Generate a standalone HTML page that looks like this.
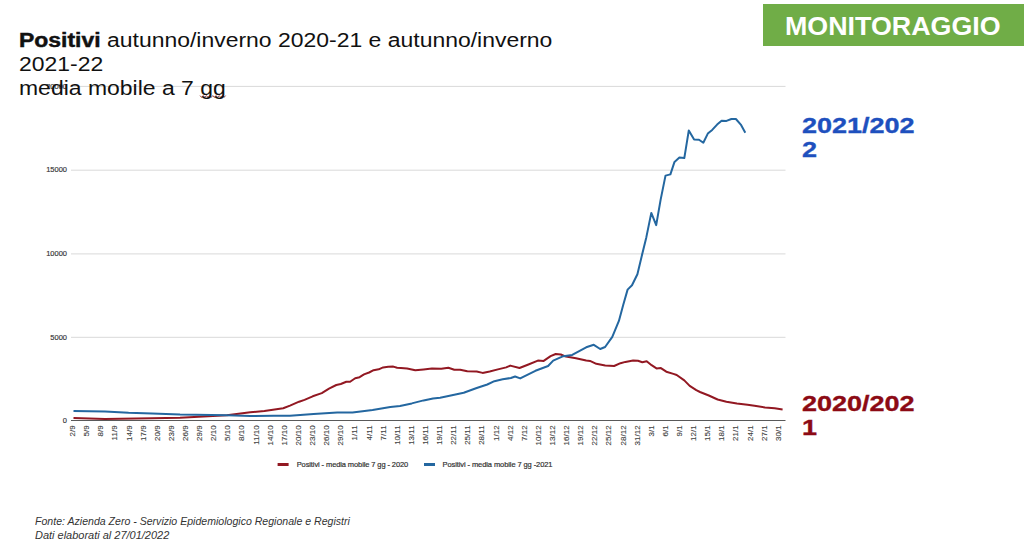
<!DOCTYPE html>
<html><head><meta charset="utf-8">
<style>
html,body{margin:0;padding:0;background:#fff;width:1024px;height:551px;overflow:hidden;position:relative;font-family:"Liberation Sans",sans-serif;}
.t{position:absolute;white-space:nowrap;}
svg{position:absolute;left:0;top:0;}
.yl{font-size:7.5px;fill:#333;stroke:#333;stroke-width:0.15px;}
.xl text{font-size:8px;fill:#404040;stroke:#404040;stroke-width:0.12px;}
</style></head><body>
<svg width="1024" height="551" viewBox="0 0 1024 551" font-family="Liberation Sans, sans-serif">
<text x="67" y="422.7" text-anchor="end" class="yl">0</text>
<line x1="71" y1="337.3" x2="785.5" y2="337.3" stroke="#d9d9d9" stroke-width="1"/>
<text x="67" y="339.5" text-anchor="end" class="yl">5000</text>
<line x1="71" y1="253.9" x2="785.5" y2="253.9" stroke="#d9d9d9" stroke-width="1"/>
<text x="67" y="256.1" text-anchor="end" class="yl">10000</text>
<line x1="71" y1="170.2" x2="785.5" y2="170.2" stroke="#d9d9d9" stroke-width="1"/>
<text x="67" y="172.39999999999998" text-anchor="end" class="yl">15000</text>
<line x1="71" y1="86.4" x2="785.5" y2="86.4" stroke="#d9d9d9" stroke-width="1"/>
<text x="67" y="88.60000000000001" text-anchor="end" class="yl">20000</text>

<line x1="71" y1="420.5" x2="785.5" y2="420.5" stroke="#595959" stroke-width="1"/>
<g class="xl">
<text transform="translate(75.10,425.4) rotate(-90) scale(1,0.9)" text-anchor="end">2/9</text>
<text transform="translate(89.21,425.4) rotate(-90) scale(1,0.9)" text-anchor="end">5/9</text>
<text transform="translate(103.33,425.4) rotate(-90) scale(1,0.9)" text-anchor="end">8/9</text>
<text transform="translate(117.44,425.4) rotate(-90) scale(1,0.9)" text-anchor="end">11/9</text>
<text transform="translate(131.56,425.4) rotate(-90) scale(1,0.9)" text-anchor="end">14/9</text>
<text transform="translate(145.67,425.4) rotate(-90) scale(1,0.9)" text-anchor="end">17/9</text>
<text transform="translate(159.78,425.4) rotate(-90) scale(1,0.9)" text-anchor="end">20/9</text>
<text transform="translate(173.90,425.4) rotate(-90) scale(1,0.9)" text-anchor="end">23/9</text>
<text transform="translate(188.01,425.4) rotate(-90) scale(1,0.9)" text-anchor="end">26/9</text>
<text transform="translate(202.13,425.4) rotate(-90) scale(1,0.9)" text-anchor="end">29/9</text>
<text transform="translate(216.24,425.4) rotate(-90) scale(1,0.9)" text-anchor="end">2/10</text>
<text transform="translate(230.36,425.4) rotate(-90) scale(1,0.9)" text-anchor="end">5/10</text>
<text transform="translate(244.47,425.4) rotate(-90) scale(1,0.9)" text-anchor="end">8/10</text>
<text transform="translate(258.58,425.4) rotate(-90) scale(1,0.9)" text-anchor="end">11/10</text>
<text transform="translate(272.70,425.4) rotate(-90) scale(1,0.9)" text-anchor="end">14/10</text>
<text transform="translate(286.81,425.4) rotate(-90) scale(1,0.9)" text-anchor="end">17/10</text>
<text transform="translate(300.93,425.4) rotate(-90) scale(1,0.9)" text-anchor="end">20/10</text>
<text transform="translate(315.04,425.4) rotate(-90) scale(1,0.9)" text-anchor="end">23/10</text>
<text transform="translate(329.15,425.4) rotate(-90) scale(1,0.9)" text-anchor="end">26/10</text>
<text transform="translate(343.27,425.4) rotate(-90) scale(1,0.9)" text-anchor="end">29/10</text>
<text transform="translate(357.38,425.4) rotate(-90) scale(1,0.9)" text-anchor="end">1/11</text>
<text transform="translate(371.50,425.4) rotate(-90) scale(1,0.9)" text-anchor="end">4/11</text>
<text transform="translate(385.61,425.4) rotate(-90) scale(1,0.9)" text-anchor="end">7/11</text>
<text transform="translate(399.72,425.4) rotate(-90) scale(1,0.9)" text-anchor="end">10/11</text>
<text transform="translate(413.84,425.4) rotate(-90) scale(1,0.9)" text-anchor="end">13/11</text>
<text transform="translate(427.95,425.4) rotate(-90) scale(1,0.9)" text-anchor="end">16/11</text>
<text transform="translate(442.07,425.4) rotate(-90) scale(1,0.9)" text-anchor="end">19/11</text>
<text transform="translate(456.18,425.4) rotate(-90) scale(1,0.9)" text-anchor="end">22/11</text>
<text transform="translate(470.29,425.4) rotate(-90) scale(1,0.9)" text-anchor="end">25/11</text>
<text transform="translate(484.41,425.4) rotate(-90) scale(1,0.9)" text-anchor="end">28/11</text>
<text transform="translate(498.52,425.4) rotate(-90) scale(1,0.9)" text-anchor="end">1/12</text>
<text transform="translate(512.64,425.4) rotate(-90) scale(1,0.9)" text-anchor="end">4/12</text>
<text transform="translate(526.75,425.4) rotate(-90) scale(1,0.9)" text-anchor="end">7/12</text>
<text transform="translate(540.87,425.4) rotate(-90) scale(1,0.9)" text-anchor="end">10/12</text>
<text transform="translate(554.98,425.4) rotate(-90) scale(1,0.9)" text-anchor="end">13/12</text>
<text transform="translate(569.09,425.4) rotate(-90) scale(1,0.9)" text-anchor="end">16/12</text>
<text transform="translate(583.21,425.4) rotate(-90) scale(1,0.9)" text-anchor="end">19/12</text>
<text transform="translate(597.32,425.4) rotate(-90) scale(1,0.9)" text-anchor="end">22/12</text>
<text transform="translate(611.44,425.4) rotate(-90) scale(1,0.9)" text-anchor="end">25/12</text>
<text transform="translate(625.55,425.4) rotate(-90) scale(1,0.9)" text-anchor="end">28/12</text>
<text transform="translate(639.66,425.4) rotate(-90) scale(1,0.9)" text-anchor="end">31/12</text>
<text transform="translate(653.78,425.4) rotate(-90) scale(1,0.9)" text-anchor="end">3/1</text>
<text transform="translate(667.89,425.4) rotate(-90) scale(1,0.9)" text-anchor="end">6/1</text>
<text transform="translate(682.01,425.4) rotate(-90) scale(1,0.9)" text-anchor="end">9/1</text>
<text transform="translate(696.12,425.4) rotate(-90) scale(1,0.9)" text-anchor="end">12/1</text>
<text transform="translate(710.23,425.4) rotate(-90) scale(1,0.9)" text-anchor="end">15/1</text>
<text transform="translate(724.35,425.4) rotate(-90) scale(1,0.9)" text-anchor="end">18/1</text>
<text transform="translate(738.46,425.4) rotate(-90) scale(1,0.9)" text-anchor="end">21/1</text>
<text transform="translate(752.58,425.4) rotate(-90) scale(1,0.9)" text-anchor="end">24/1</text>
<text transform="translate(766.69,425.4) rotate(-90) scale(1,0.9)" text-anchor="end">27/1</text>
<text transform="translate(780.80,425.4) rotate(-90) scale(1,0.9)" text-anchor="end">30/1</text>
</g>
<polyline points="73.5,418.1 105.0,419.0 152.0,418.2 180.0,417.8 226.9,415.2 250.3,412.3 264.4,411.1 283.2,408.2 290.0,405.6 299.1,401.7 304.5,399.9 312.7,396.3 321.8,393.1 329.0,388.6 336.3,385.0 340.8,384.0 346.3,381.8 350.1,381.7 355.2,378.2 359.6,377.2 364.0,374.4 369.1,372.5 373.6,370.2 378.7,369.3 383.1,367.4 388.2,366.7 393.3,366.6 397.1,367.7 400.9,368.0 407.1,368.6 415.3,370.3 423.6,369.4 431.9,368.6 441.3,368.8 448.4,367.7 454.3,369.7 460.2,369.7 467.3,371.3 476.7,371.5 482.6,372.9 489.7,371.5 497.9,369.4 506.2,367.4 510.3,365.6 519.5,368.0 527.8,364.7 537.9,360.6 543.7,360.9 550.6,356.2 555.7,354.0 560.8,354.5 565.9,356.6 576.0,358.3 586.2,360.6 590.0,360.9 596.3,363.8 605.2,365.5 614.1,366.0 620.5,363.2 625.4,361.9 633.1,360.5 638.0,360.8 642.3,362.2 646.7,361.3 651.6,365.2 656.5,368.4 660.9,368.1 666.3,371.7 673.4,373.9 676.7,375.0 684.3,380.4 689.7,385.9 696.3,390.2 700.0,392.0 708.8,395.5 717.6,399.5 726.4,401.7 736.9,403.5 747.5,404.8 754.5,405.7 765.0,407.4 774.7,408.3 782.6,409.4" fill="none" stroke="#921822" stroke-width="2" stroke-linejoin="round"/>
<polyline points="73.5,411.1 105.0,411.6 128.6,412.8 152.0,413.4 180.0,414.6 226.9,415.2 250.3,416.0 273.8,415.8 290.0,415.8 313.6,414.0 337.2,412.6 352.5,412.6 372.6,409.9 390.3,406.9 400.0,406.0 411.8,403.4 423.6,400.4 433.0,398.4 440.1,397.7 449.6,395.7 463.7,392.8 476.7,388.0 487.3,384.5 494.4,381.2 502.7,379.2 510.9,378.0 515.1,376.5 520.2,378.4 535.4,370.8 548.1,366.0 553.2,360.6 563.3,356.2 572.2,354.9 586.2,347.3 593.8,344.8 600.2,349.0 605.1,347.0 612.3,336.8 618.9,320.9 623.2,304.9 627.6,289.6 632.0,285.3 637.4,274.2 642.3,253.8 646.3,237.4 651.3,212.9 656.2,225.1 660.6,199.9 665.5,175.6 670.4,174.4 674.5,161.9 679.4,157.6 684.3,158.1 688.8,130.4 694.1,139.4 699.0,139.7 703.3,142.7 707.8,133.6 712.2,129.9 717.1,124.6 721.6,120.7 726.5,120.9 731.4,119.0 735.9,119.0 740.8,124.6 745.3,132.8" fill="none" stroke="#2467A0" stroke-width="2" stroke-linejoin="round"/>
<polyline points="200.0,95.6 201.6,97.4 203.2,95.6 204.8,97.4 206.4,95.6 208.0,97.4 209.6,95.6 211.2,97.4 212.8,95.6 214.4,97.4 216.0,95.6 217.6,97.4 219.2,95.6 220.8,97.4 222.4,95.6 224.0,97.4 225.6,95.6" fill="none" stroke="#7a1010" stroke-width="0.9" opacity="0.85"/>
<rect x="277.6" y="463" width="11" height="3" fill="#921822"/>
<text x="296.7" y="467" font-size="7.5" fill="#333" stroke="#333" stroke-width="0.2" textLength="111.5">Positivi - media mobile 7 gg - 2020</text>
<rect x="424" y="463" width="11" height="3" fill="#2467A0"/>
<text x="442.5" y="467" font-size="7.5" fill="#333" stroke="#333" stroke-width="0.2" textLength="110">Positivi - media mobile 7 gg -2021</text>
</svg>
<div class="t" id="title1" style="left:19.3px;top:28px;font-size:19.5px;color:#111;line-height:24px;transform:scaleX(1.177);transform-origin:0 0;"><b style="-webkit-text-stroke:0.45px #111">Positivi</b> autunno/inverno 2020-21 e autunno/inverno<br>2021-22<br>media mobile a 7 gg</div>
<div style="position:absolute;left:763px;top:4.2px;width:261px;height:41.5px;background:#70AD47;"></div>
<div class="t" id="mon" style="left:784.5px;top:11px;font-size:25.2px;font-weight:bold;color:#fff;line-height:30px;transform:scaleX(1.065);transform-origin:0 0;">MONITORAGGIO</div>
<div class="t" id="l2122" style="left:802px;top:114.2px;font-size:22.6px;font-weight:bold;color:#1E50BE;line-height:24.3px;transform:scaleX(1.195);-webkit-text-stroke:0.35px #1E50BE;transform-origin:0 0;">2021/202<br>2</div>
<div class="t" id="l2021" style="left:802px;top:391.7px;font-size:22.6px;font-weight:bold;color:#8C0A14;line-height:24.3px;transform:scaleX(1.195);-webkit-text-stroke:0.35px #8C0A14;transform-origin:0 0;">2020/202<br>1</div>
<div class="t" id="foot1" style="left:35px;top:515px;font-size:10px;font-style:italic;color:#333;line-height:14px;transform:scaleX(1.056);transform-origin:0 0;">Fonte: Azienda Zero - Servizio Epidemiologico Regionale e Registri</div>
<div class="t" id="foot2" style="left:35px;top:529px;font-size:10px;font-style:italic;color:#333;line-height:14px;transform:scaleX(1.098);transform-origin:0 0;">Dati elaborati al 27/01/2022</div>
</body></html>
